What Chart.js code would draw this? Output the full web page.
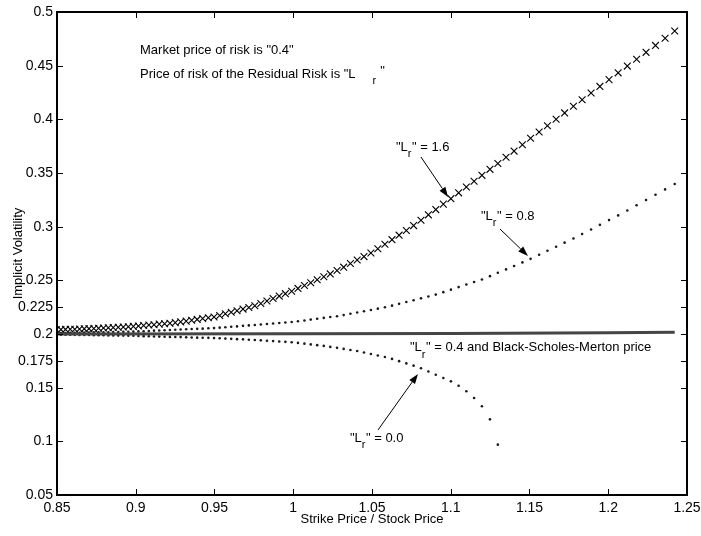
<!DOCTYPE html>
<html>
<head>
<meta charset="utf-8">
<script src="https://cdn.jsdelivr.net/npm/chart.js@4/dist/chart.umd.min.js"></script>
<style>
  body { margin: 0; background: #fff; }
  canvas { display: block; }
</style>
</head>
<body>
<canvas id="vol-chart" width="701" height="536"></canvas>
<script>
// Strike / stock ratio of every computed point (shared by all the marker series)
var strikeRatio = [
  0.8496, 0.8525, 0.8554, 0.8584, 0.8613, 0.8643, 0.8673, 0.8703, 0.8734, 0.8764,
  0.8795, 0.8826, 0.8857, 0.8889, 0.8921, 0.8953, 0.8985, 0.9017, 0.9050, 0.9083,
  0.9116, 0.9149, 0.9183, 0.9217, 0.9251, 0.9285, 0.9320, 0.9355, 0.9390, 0.9425,
  0.9461, 0.9497, 0.9533, 0.9569, 0.9606, 0.9643, 0.9681, 0.9718, 0.9756, 0.9794,
  0.9833, 0.9872, 0.9911, 0.9950, 0.9990, 1.0030, 1.0071, 1.0111, 1.0152, 1.0194,
  1.0235, 1.0278, 1.0320, 1.0363, 1.0406, 1.0449, 1.0493, 1.0537, 1.0582, 1.0627,
  1.0672, 1.0718, 1.0764, 1.0811, 1.0858, 1.0905, 1.0953, 1.1001, 1.1050, 1.1099,
  1.1148, 1.1198, 1.1249, 1.1299, 1.1351, 1.1402, 1.1455, 1.1507, 1.1561, 1.1614,
  1.1669, 1.1723, 1.1779, 1.1834, 1.1891, 1.1947, 1.2005, 1.2063, 1.2121, 1.2180,
  1.2240, 1.2300, 1.2361, 1.2422
];

// "Lr" = 1.6
var volRisk16 = [
  0.2040, 0.2041, 0.2043, 0.2044, 0.2045, 0.2047, 0.2048, 0.2050, 0.2051, 0.2053,
  0.2056, 0.2058, 0.2061, 0.2063, 0.2066, 0.2068, 0.2071, 0.2074, 0.2079, 0.2083,
  0.2087, 0.2092, 0.2096, 0.2101, 0.2106, 0.2113, 0.2120, 0.2128, 0.2136, 0.2144,
  0.2151, 0.2159, 0.2173, 0.2188, 0.2202, 0.2217, 0.2232, 0.2247, 0.2263, 0.2285,
  0.2308, 0.2330, 0.2353, 0.2376, 0.2399, 0.2425, 0.2452, 0.2478, 0.2505, 0.2533,
  0.2560, 0.2591, 0.2623, 0.2656, 0.2689, 0.2721, 0.2755, 0.2795, 0.2837, 0.2879,
  0.2921, 0.2965, 0.3010, 0.3060, 0.3110, 0.3159, 0.3210, 0.3261, 0.3315, 0.3369,
  0.3423, 0.3478, 0.3534, 0.3589, 0.3647, 0.3704, 0.3764, 0.3823, 0.3882, 0.3940,
  0.4001, 0.4060, 0.4122, 0.4182, 0.4245, 0.4307, 0.4370, 0.4433, 0.4496, 0.4559,
  0.4624, 0.4689, 0.4756, 0.4823
];

// "Lr" = 0.8
var volRisk08 = [
  0.2008, 0.2009, 0.2010, 0.2011, 0.2011, 0.2012, 0.2013, 0.2014, 0.2015, 0.2016,
  0.2017, 0.2017, 0.2018, 0.2019, 0.2020, 0.2021, 0.2022, 0.2024, 0.2026, 0.2028,
  0.2031, 0.2033, 0.2035, 0.2037, 0.2039, 0.2042, 0.2044, 0.2046, 0.2048, 0.2050,
  0.2053, 0.2055, 0.2059, 0.2063, 0.2067, 0.2071, 0.2076, 0.2080, 0.2084, 0.2089,
  0.2093, 0.2098, 0.2102, 0.2107, 0.2112, 0.2119, 0.2126, 0.2134, 0.2142, 0.2150,
  0.2158, 0.2166, 0.2176, 0.2188, 0.2200, 0.2212, 0.2224, 0.2236, 0.2249, 0.2264,
  0.2281, 0.2298, 0.2315, 0.2332, 0.2350, 0.2367, 0.2390, 0.2413, 0.2437, 0.2461,
  0.2484, 0.2508, 0.2539, 0.2570, 0.2602, 0.2634, 0.2667, 0.2700, 0.2738, 0.2775,
  0.2813, 0.2851, 0.2890, 0.2931, 0.2974, 0.3017, 0.3061, 0.3105, 0.3150, 0.3199,
  0.3248, 0.3297, 0.3347, 0.3397
];

// "Lr" = 0.0 (stops at strike ratio 1.13)
var volRisk00 = [
  0.1995, 0.1994, 0.1994, 0.1993, 0.1992, 0.1991, 0.1991, 0.1990, 0.1989, 0.1989,
  0.1988, 0.1987, 0.1986, 0.1985, 0.1985, 0.1984, 0.1983, 0.1981, 0.1980, 0.1979,
  0.1977, 0.1976, 0.1975, 0.1973, 0.1972, 0.1971, 0.1969, 0.1968, 0.1966, 0.1965,
  0.1964, 0.1962, 0.1960, 0.1957, 0.1955, 0.1952, 0.1950, 0.1947, 0.1944, 0.1941,
  0.1937, 0.1934, 0.1930, 0.1927, 0.1923, 0.1917, 0.1910, 0.1903, 0.1896, 0.1889,
  0.1880, 0.1871, 0.1861, 0.1851, 0.1841, 0.1827, 0.1813, 0.1800, 0.1786, 0.1768,
  0.1747, 0.1726, 0.1705, 0.1681, 0.1651, 0.1621, 0.1590, 0.1559, 0.1518, 0.1466,
  0.1404, 0.1327, 0.1205, 0.0969
];

// "Lr" = 0.4, same as Black-Scholes-Merton
var bsmStrike = [0.85, 1.0, 1.1, 1.2, 1.2422];
var bsmVol = [0.2000, 0.2002, 0.2005, 0.2011, 0.2016];

var xTickValues = [0.85, 0.9, 0.95, 1, 1.05, 1.1, 1.15, 1.2, 1.25];
var yTickValues = [0.05, 0.1, 0.15, 0.175, 0.2, 0.225, 0.25, 0.3, 0.35, 0.4, 0.45, 0.5];

var fontName = "'Liberation Sans', Arial, sans-serif";

// text notes, placed in data coordinates: [before, subscript, after]
var notes = [
  {x: 0.9027, y: 0.4639, text: ['Market price of risk is "0.4"']},
  {x: 0.9027, y: 0.4422, text: ['Price of risk of the Residual Risk is "L', 'r', '"'], subGap: 17, afterDy: -3, afterGap: 4},
  {x: 1.0652, y: 0.3738, text: ['"L', 'r', '" = 1.6']},
  {x: 1.1192, y: 0.3100, text: ['"L', 'r', '" = 0.8']},
  {x: 1.0741, y: 0.1874, text: ['"L', 'r', '" = 0.4 and Black-Scholes-Merton price']},
  {x: 1.0360, y: 0.1027, text: ['"L', 'r', '" = 0.0']}
];

var arrows = [
  {from: [1.0811, 0.3649], to: [1.0983, 0.3277]},
  {from: [1.1313, 0.2978], to: [1.1490, 0.2727]},
  {from: [1.0538, 0.1106], to: [1.0792, 0.1628]}
];

var toPoints = function(xs, ys) {
  return ys.map(function(y, i) { return {x: xs[i], y: y}; });
};

var drawNote = function(ctx, xs, ys, note) {
  var px = xs.getPixelForValue(note.x);
  var py = ys.getPixelForValue(note.y);
  ctx.font = '13px ' + fontName;
  ctx.fillText(note.text[0], px, py);
  if (note.text.length < 2) return;
  px += ctx.measureText(note.text[0]).width + (note.subGap || 0);
  ctx.font = '11px ' + fontName;
  ctx.fillText(note.text[1], px, py + 7);
  px += ctx.measureText(note.text[1]).width + (note.afterGap || 0.5);
  ctx.font = '13px ' + fontName;
  ctx.fillText(note.text[2], px, py + (note.afterDy || 0));
};

var drawArrow = function(ctx, xs, ys, arrow) {
  var x0 = xs.getPixelForValue(arrow.from[0]), y0 = ys.getPixelForValue(arrow.from[1]);
  var x1 = xs.getPixelForValue(arrow.to[0]), y1 = ys.getPixelForValue(arrow.to[1]);
  var ang = Math.atan2(y1 - y0, x1 - x0);
  var len = 10, half = 3.5;
  ctx.beginPath();
  ctx.moveTo(x0, y0);
  ctx.lineTo(x1 - Math.cos(ang) * len, y1 - Math.sin(ang) * len);
  ctx.stroke();
  ctx.beginPath();
  ctx.moveTo(x1, y1);
  ctx.lineTo(x1 - Math.cos(ang) * len - Math.sin(ang) * half, y1 - Math.sin(ang) * len + Math.cos(ang) * half);
  ctx.lineTo(x1 - Math.cos(ang) * len + Math.sin(ang) * half, y1 - Math.sin(ang) * len - Math.cos(ang) * half);
  ctx.closePath();
  ctx.fill();
};

// frame, inward ticks and the notes (gnuplot look)
var framePlugin = {
  id: 'frame',
  afterDraw: function(chart) {
    var ctx = chart.ctx;
    var area = chart.chartArea;
    var xs = chart.scales.x, ys = chart.scales.y;
    ctx.save();
    ctx.strokeStyle = '#000';
    ctx.fillStyle = '#000';
    ctx.lineWidth = 1;
    ctx.beginPath();
    xTickValues.forEach(function(v) {
      var px = Math.round(xs.getPixelForValue(v)) + 0.5;
      ctx.moveTo(px, area.bottom); ctx.lineTo(px, area.bottom - 6);
      ctx.moveTo(px, area.top); ctx.lineTo(px, area.top + 6);
    });
    yTickValues.forEach(function(v) {
      var py = Math.round(ys.getPixelForValue(v)) + 0.5;
      ctx.moveTo(area.left, py); ctx.lineTo(area.left + 6, py);
      ctx.moveTo(area.right, py); ctx.lineTo(area.right - 6, py);
    });
    ctx.stroke();
    ctx.lineWidth = 2;
    ctx.strokeRect(area.left, area.top, area.right - area.left, area.bottom - area.top);

    ctx.lineWidth = 1;
    arrows.forEach(function(a) { drawArrow(ctx, xs, ys, a); });
    ctx.textBaseline = 'middle';
    ctx.textAlign = 'left';
    notes.forEach(function(n) { drawNote(ctx, xs, ys, n); });
    ctx.restore();
  }
};

var ctx = document.getElementById('vol-chart').getContext('2d');
var volChart = new Chart(ctx, {
  type: 'scatter',
  data: {
    datasets: [{
      label: '"Lr" = 0.4 and Black-Scholes-Merton price',
      data: toPoints(bsmStrike, bsmVol),
      showLine: true,
      borderColor: '#454545',
      borderWidth: 3,
      pointRadius: 0
    }, {
      label: '"Lr" = 0.0',
      data: toPoints(strikeRatio, volRisk00),
      pointStyle: 'circle',
      pointRadius: 1.3,
      borderWidth: 0,
      backgroundColor: '#1a1a1a'
    }, {
      label: '"Lr" = 0.8',
      data: toPoints(strikeRatio, volRisk08),
      pointStyle: 'circle',
      pointRadius: 1.3,
      borderWidth: 0,
      backgroundColor: '#1a1a1a'
    }, {
      label: '"Lr" = 1.6',
      data: toPoints(strikeRatio, volRisk16),
      pointStyle: 'crossRot',
      pointRadius: 4.8,
      borderWidth: 1.1,
      borderColor: '#000'
    }]
  },
  options: {
    responsive: false,
    animation: false,
    layout: { padding: { left: 0, top: 12, right: 14, bottom: 0 } },
    plugins: { legend: { display: false }, tooltip: { enabled: false } },
    scales: {
      x: {
        type: 'linear',
        min: 0.85,
        max: 1.25,
        afterBuildTicks: function(scale) {
          scale.ticks = xTickValues.map(function(v) { return {value: v}; });
        },
        afterFit: function(scale) {
          scale.height = 41;
          scale.paddingLeft = 0; scale.paddingRight = 0;
        },
        grid: { display: false, drawTicks: false },
        border: { display: false },
        ticks: {
          padding: 5,
          color: '#000',
          font: { family: fontName, size: 14 },
          maxRotation: 0,
          callback: function(v) { return String(v); }
        },
        title: {
          display: true,
          text: 'Strike Price / Stock Price',
          color: '#000',
          font: { family: fontName, size: 13 },
          padding: { top: 0, bottom: 9 }
        }
      },
      y: {
        type: 'linear',
        min: 0.05,
        max: 0.5,
        afterBuildTicks: function(scale) {
          scale.ticks = yTickValues.map(function(v) { return {value: v}; });
        },
        afterFit: function(scale) {
          scale.width = 57;
          scale.paddingTop = 0; scale.paddingBottom = 0;
        },
        grid: { display: false, drawTicks: false },
        border: { display: false },
        ticks: {
          padding: 4,
          color: '#000',
          font: { family: fontName, size: 14 },
          callback: function(v) { return String(v); }
        },
        title: {
          display: true,
          text: 'Implicit Volatility',
          color: '#000',
          font: { family: fontName, size: 13 },
          padding: { top: 11, bottom: 0 }
        }
      }
    }
  },
  plugins: [framePlugin]
});
</script>
</body>
</html>
